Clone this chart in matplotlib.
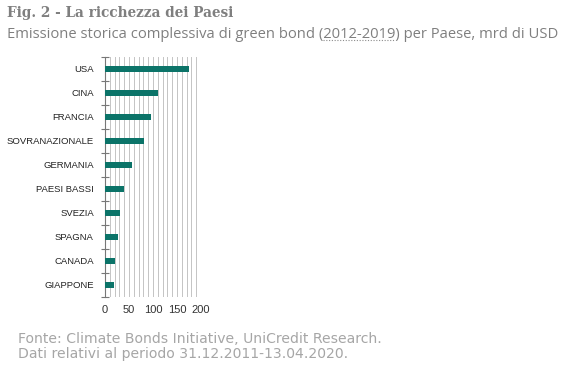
import matplotlib
matplotlib.use("Agg")
import matplotlib.pyplot as plt
import numpy as np

# data (mrd di USD)
paesi = ["USA", "CINA", "FRANCIA", "SOVRANAZIONALE", "GERMANIA",
         "PAESI BASSI", "SVEZIA", "SPAGNA", "CANADA", "GIAPPONE"]
emissioni = [176, 110, 95, 82, 57, 40, 31, 28, 21, 19]
xticks = [0, 50, 100, 150, 200]

title = "Fig. 2 - La ricchezza dei Paesi"
sub_pre = "Emissione storica complessiva di green bond ("
sub_mid = "2012-2019"
sub_post = ") per Paese, mrd di USD"
fonte = ["Fonte: Climate Bonds Initiative, UniCredit Research.",
         "Dati relativi al periodo 31.12.2011-13.04.2020."]

W, H = 569, 367
fig = plt.figure(figsize=(W / 100, H / 100), dpi=100)
fig.patch.set_facecolor("white")

ax = fig.add_axes([105 / W, 1 - 297 / H, 96 / W, 240 / H])
y = np.arange(len(paesi))
ax.barh(y, emissioni, height=0.27, color="#0b7368", zorder=3)
ax.set_ylim(len(paesi) - 0.5, -0.5)
ax.set_xlim(0, 200)

# thin vertical grid every 10
for gx in range(10, 201, 10):
    ax.axvline(gx, color="#c4c4c4", lw=0.7, zorder=1)

ax.set_xticks(xticks)
ax.set_xticklabels([str(v) for v in xticks], fontsize=8, color="#333333",
                   family="Liberation Sans")
ax.tick_params(axis="x", length=0, pad=6)
ax.set_yticks(y)
ax.set_yticklabels(paesi, fontsize=6.8, color="#222222", family="Liberation Sans")
ax.tick_params(axis="y", length=0, pad=8)
# small ticks between categories
ax.set_yticks(np.arange(-0.5, len(paesi), 1.0), minor=True)
ax.tick_params(axis="y", which="minor", length=6, direction="inout",
               color="#777777", width=0.8)

for s in ["top", "right", "bottom"]:
    ax.spines[s].set_visible(False)
ax.spines["left"].set_color("#777777")
ax.spines["left"].set_linewidth(0.8)

# header
fig.text(7 / W, 1 - 13 / H, title, fontsize=9.8, fontweight="bold",
         color="#7f7f7f", family="DejaVu Serif", va="center")
sub_y = 1 - 34 / H
t = fig.text(7 / W, sub_y, sub_pre + sub_mid + sub_post, fontsize=10.6,
             color="#7f7f7f", family="Open Sans", va="center")

# dotted underline below 2012-2019
fig.canvas.draw()
r = fig.canvas.get_renderer()
tmp = fig.text(7 / W, sub_y, sub_pre, fontsize=10.6, family="Open Sans", va="center")
x0 = tmp.get_window_extent(r).x1
tmp.remove()
tmp = fig.text(7 / W, sub_y, sub_pre + sub_mid, fontsize=10.6, family="Open Sans", va="center")
x1 = tmp.get_window_extent(r).x1
tmp.remove()
uy = t.get_window_extent(r).y0 + 1.5
fig.add_artist(plt.Line2D([x0 / W, x1 / W], [uy / H, uy / H], transform=fig.transFigure,
                          color="#8c8c8c", lw=0.8, ls=(0, (1, 1.5))))

fig.text(18 / W, 1 - 339 / H, fonte[0], fontsize=10.1, color="#a6a6a6",
         family="DejaVu Sans", va="center")
fig.text(18 / W, 1 - 354 / H, fonte[1], fontsize=10.1, color="#a6a6a6",
         family="DejaVu Sans", va="center")

fig.savefig("out.png", dpi=100)
